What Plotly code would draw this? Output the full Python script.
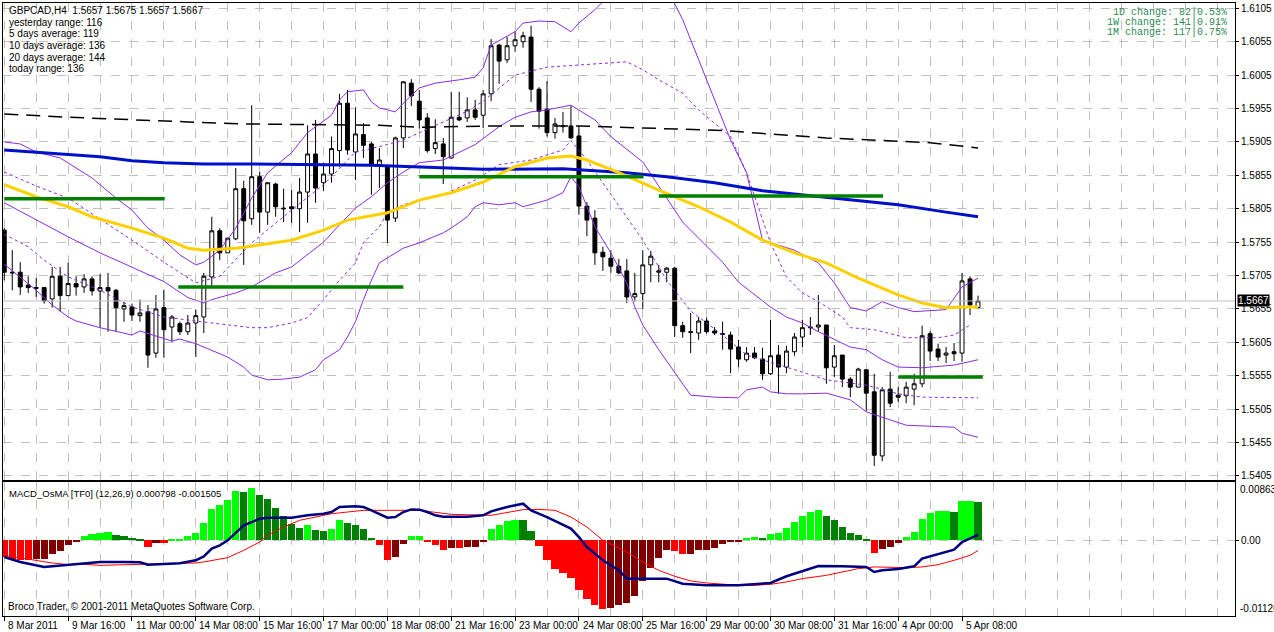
import plotly.graph_objects as go

# ---- GBPCAD H4 candles, 8 Mar 2011 08:00 .. 5 Apr 2011 16:00 (bar index 0..122)
opens = [1.5773, 1.5710, 1.5710, 1.5691, 1.5687, 1.5687, 1.5670, 1.5704, 1.5675, 1.5693,
         1.5688, 1.5700, 1.5682, 1.5687, 1.5683, 1.5655, 1.5658, 1.5645, 1.5651, 1.5589,
         1.5657, 1.5628, 1.5633, 1.5621, 1.5634, 1.5643, 1.5703, 1.5772, 1.5739, 1.5760,
         1.5835, 1.5790, 1.5853, 1.5800, 1.5842, 1.5806, 1.5808, 1.5805, 1.5830, 1.5887,
         1.5844, 1.5857, 1.5892, 1.5963, 1.5890, 1.5916, 1.5902, 1.5871, 1.5868, 1.5791,
         1.5911, 1.5993, 1.5966, 1.5941, 1.5895, 1.5902, 1.5881, 1.5942, 1.5941, 1.5953,
         1.5945, 1.5977, 1.6050, 1.6028, 1.6049, 1.6055, 1.6062, 1.5984, 1.5954, 1.5919,
         1.5929, 1.5929, 1.5914, 1.5809, 1.5791, 1.5740, 1.5731, 1.5719, 1.5712, 1.5673,
         1.5678, 1.5721, 1.5710, 1.5710, 1.5716, 1.5630, 1.5621, 1.5619, 1.5637, 1.5622,
         1.5618, 1.5616, 1.5598, 1.5579, 1.5589, 1.5580, 1.5558, 1.5586, 1.5568, 1.5591,
         1.5613, 1.5628, 1.5628, 1.5631, 1.5568, 1.5586, 1.5550, 1.5538, 1.5564, 1.5531,
         1.5435, 1.5535, 1.5526, 1.5525, 1.5535, 1.5543, 1.5618, 1.5595, 1.5586, 1.5591,
         1.5589, 1.5700, 1.5657]
highs = [1.5776, 1.5743, 1.5725, 1.5704, 1.5701, 1.5688, 1.5718, 1.5718, 1.5724, 1.5704,
         1.5707, 1.5704, 1.5707, 1.5709, 1.5685, 1.5666, 1.5663, 1.5669, 1.5661, 1.5676,
         1.5684, 1.5646, 1.5636, 1.5646, 1.5654, 1.5709, 1.5793, 1.5776, 1.5761, 1.5866,
         1.5847, 1.5960, 1.5860, 1.5844, 1.5844, 1.5835, 1.5833, 1.5851, 1.5930, 1.5938,
         1.5874, 1.5913, 1.5977, 1.5983, 1.5957, 1.5933, 1.5905, 1.5896, 1.5868, 1.5913,
         1.5996, 1.5999, 1.5983, 1.5948, 1.5939, 1.5911, 1.5980, 1.5980, 1.5972, 1.5968,
         1.5983, 1.6059, 1.6052, 1.6062, 1.6071, 1.6070, 1.6079, 1.5987, 1.5996, 1.5941,
         1.5950, 1.5959, 1.5929, 1.5815, 1.5803, 1.5748, 1.5743, 1.5730, 1.5730, 1.5709,
         1.5743, 1.5742, 1.5721, 1.5718, 1.5718, 1.5636, 1.5649, 1.5643, 1.5642, 1.5628,
         1.5636, 1.5621, 1.5609, 1.5598, 1.5598, 1.5597, 1.5639, 1.5601, 1.5600, 1.5619,
         1.5639, 1.5643, 1.5676, 1.5631, 1.5601, 1.5586, 1.5553, 1.5567, 1.5564, 1.5558,
         1.5538, 1.5561, 1.5538, 1.5546, 1.5558, 1.5630, 1.5622, 1.5603, 1.5598, 1.5604,
         1.5709, 1.5704, 1.5675]
lows = [1.5698, 1.5683, 1.5676, 1.5679, 1.5673, 1.5663, 1.5657, 1.5651, 1.5675, 1.5675,
        1.5679, 1.5675, 1.5627, 1.5621, 1.5621, 1.5636, 1.5637, 1.5636, 1.5567, 1.5582,
        1.5582, 1.5606, 1.5616, 1.5616, 1.5583, 1.5619, 1.5688, 1.5728, 1.5739, 1.5758,
        1.5721, 1.5781, 1.5769, 1.5781, 1.5793, 1.5785, 1.5784, 1.5770, 1.5784, 1.5814,
        1.5832, 1.5844, 1.5868, 1.5886, 1.5848, 1.5881, 1.5826, 1.5836, 1.5754, 1.5785,
        1.5896, 1.5959, 1.5925, 1.5889, 1.5887, 1.5842, 1.5880, 1.5936, 1.5935, 1.5938,
        1.5926, 1.5966, 1.5992, 1.6023, 1.6040, 1.6046, 1.5965, 1.5925, 1.5913, 1.5910,
        1.5919, 1.5910, 1.5796, 1.5764, 1.5721, 1.5712, 1.5709, 1.5707, 1.5664, 1.5666,
        1.5655, 1.5695, 1.5695, 1.5695, 1.5613, 1.5612, 1.5589, 1.5609, 1.5618, 1.5616,
        1.5594, 1.5559, 1.5568, 1.5576, 1.5580, 1.5549, 1.5556, 1.5528, 1.5559, 1.5585,
        1.5598, 1.5616, 1.5621, 1.5543, 1.5553, 1.5538, 1.5523, 1.5538, 1.5502, 1.5420,
        1.5427, 1.5508, 1.5516, 1.5514, 1.5511, 1.5538, 1.5577, 1.5577, 1.5574, 1.5577,
        1.5576, 1.5646, 1.5657]
closes = [1.5710, 1.5709, 1.5688, 1.5687, 1.5686, 1.5667, 1.5704, 1.5675, 1.5693, 1.5688,
          1.5700, 1.5682, 1.5687, 1.5682, 1.5657, 1.5660, 1.5646, 1.5649, 1.5586, 1.5655,
          1.5624, 1.5643, 1.5621, 1.5634, 1.5645, 1.5704, 1.5772, 1.5739, 1.5761, 1.5835,
          1.5787, 1.5853, 1.5800, 1.5844, 1.5808, 1.5805, 1.5805, 1.5830, 1.5887, 1.5836,
          1.5857, 1.5895, 1.5963, 1.5893, 1.5917, 1.5900, 1.5871, 1.5878, 1.5788, 1.5911,
          1.5995, 1.5974, 1.5938, 1.5892, 1.5904, 1.5883, 1.5942, 1.5938, 1.5953, 1.5942,
          1.5977, 1.6049, 1.6026, 1.6049, 1.6058, 1.6064, 1.5984, 1.5951, 1.5919, 1.5932,
          1.5928, 1.5911, 1.5809, 1.5788, 1.5739, 1.5733, 1.5719, 1.5709, 1.5673, 1.5678,
          1.5721, 1.5734, 1.5712, 1.5716, 1.5630, 1.5621, 1.5620, 1.5637, 1.5621, 1.5619,
          1.5617, 1.5595, 1.5580, 1.5589, 1.5582, 1.5558, 1.5585, 1.5568, 1.5592, 1.5613,
          1.5627, 1.5627, 1.5631, 1.5567, 1.5585, 1.5550, 1.5538, 1.5565, 1.5529, 1.5436,
          1.5534, 1.5514, 1.5523, 1.5538, 1.5543, 1.5615, 1.5592, 1.5583, 1.5589, 1.5588,
          1.5697, 1.5661, 1.5667]
last_price = 1.5667

# time axis labels (every 8 bars)
label_idx = [0, 8, 16, 24, 32, 40, 48, 56, 64, 72, 80, 88, 96, 104, 112, 120]
labels = ["8 Mar 2011", "9 Mar 16:00", "11 Mar 00:00", "14 Mar 08:00", "15 Mar 16:00",
          "17 Mar 00:00", "18 Mar 08:00", "21 Mar 16:00", "23 Mar 00:00", "24 Mar 08:00",
          "25 Mar 16:00", "29 Mar 00:00", "30 Mar 08:00", "31 Mar 16:00", "4 Apr 00:00",
          "5 Apr 08:00"]

# moving averages (read at sample bars)
yel_idx = [0, 4, 8, 11, 16, 20, 23, 25, 29, 31, 36, 40, 43, 48, 52, 56, 60, 64, 68, 71, 73,
           77, 82, 87, 91, 95, 99, 103, 107, 112, 115, 118, 120, 122]
yel_val = [1.5841, 1.5823, 1.5808, 1.5793, 1.5776, 1.5761, 1.5746, 1.5743, 1.5746, 1.5749,
           1.5758, 1.5773, 1.5788, 1.5799, 1.5818, 1.5829, 1.5845, 1.5868, 1.5881, 1.5884,
           1.5878, 1.5859, 1.5833, 1.5808, 1.5785, 1.5758, 1.5739, 1.5724, 1.5701, 1.5676,
           1.5664, 1.5657, 1.5658, 1.5658]
blue_idx = [0, 4, 8, 12, 16, 20, 25, 31, 46, 51, 55, 60, 70, 73, 78, 83, 89, 95, 103, 112, 118, 122]
blue_val = [1.5893, 1.5890, 1.5887, 1.5883, 1.5877, 1.5874, 1.5872, 1.5872, 1.5870, 1.5868,
            1.5866, 1.5864, 1.5865, 1.5863, 1.5859, 1.5853, 1.5844, 1.5832, 1.5822, 1.5811,
            1.5800, 1.5793]
blk_idx = [0, 8, 23, 30, 47, 52, 61, 72, 80, 90, 103, 116, 122]
blk_val = [1.5947, 1.5942, 1.5935, 1.5932, 1.5930, 1.5927, 1.5929, 1.5929, 1.5926, 1.5922,
           1.5911, 1.5904, 1.5896]

# bollinger style bands (solid upper / middle / lower, dotted inner pair)
up_idx = [0, 2, 4, 7, 11, 14, 16, 18, 20, 22, 24, 25, 27, 29, 31, 33, 36, 38, 41, 42,
          43, 45, 46, 47, 49, 50, 52, 54, 57, 59, 60, 61, 64, 65, 67, 69, 71, 72, 74, 75,
          78, 81, 83, 84, 85, 87, 89, 91, 93, 94, 95, 99, 102, 104, 106, 108, 110, 112, 114, 118,
          119, 120, 122]
up_val = [1.5905, 1.5902, 1.5890, 1.5881, 1.5851, 1.5821, 1.5803, 1.5776, 1.5758, 1.5736,
          1.5721, 1.5725, 1.5743, 1.5776, 1.5821, 1.5859, 1.5889, 1.5919, 1.5945, 1.5968,
          1.5980, 1.5983, 1.5965, 1.5956, 1.5950, 1.5963, 1.5986, 1.5993, 1.5998, 1.6002,
          1.6016, 1.6050, 1.6070, 1.6083, 1.6086, 1.6085, 1.6070, 1.6083, 1.6103, 1.6115,
          1.6145, 1.6155, 1.6136, 1.6113, 1.6088, 1.6028, 1.5968, 1.5908, 1.5859, 1.5808,
          1.5758, 1.5743, 1.5724, 1.5694, 1.5657, 1.5652, 1.5666, 1.5657, 1.5651, 1.5654,
          1.5672, 1.5688, 1.5701]
mid_idx = [0, 4, 8, 12, 16, 20, 23, 25, 26, 29, 31, 34, 36, 38, 40, 42, 44, 46, 48, 50,
           52, 55, 57, 59, 62, 64, 66, 68, 71, 74, 76, 80, 85, 90, 92, 94, 96, 98, 100, 102,
           104, 106, 108, 110, 112, 115, 119, 122]
mid_val = [1.5814, 1.5788, 1.5763, 1.5739, 1.5717, 1.5696, 1.5672, 1.5664, 1.5669, 1.5679,
           1.5688, 1.5709, 1.5718, 1.5736, 1.5755, 1.5781, 1.5806, 1.5823, 1.5844, 1.5860,
           1.5874, 1.5878, 1.5890, 1.5901, 1.5928, 1.5942, 1.5950, 1.5953, 1.5960, 1.5938,
           1.5913, 1.5875, 1.5785, 1.5725, 1.5695, 1.5676, 1.5658, 1.5643, 1.5634, 1.5621,
           1.5609, 1.5598, 1.5594, 1.5579, 1.5568, 1.5567, 1.5571, 1.5579]
lo_idx = [0, 4, 6, 8, 9, 12, 16, 17, 21, 22, 24, 28, 30, 31, 33, 35, 37, 39, 40, 42,
          43, 44, 45, 46, 47, 49, 50, 52, 55, 56, 58, 59, 60, 62, 64, 65, 68, 70, 71, 72,
          73, 74, 76, 78, 79, 80, 82, 84, 86, 89, 92, 93, 95, 96, 98, 100, 103, 106, 108, 111,
          113, 119, 120, 122]
lo_val = [1.5722, 1.5683, 1.5661, 1.5643, 1.5637, 1.5627, 1.5616, 1.5622, 1.5607, 1.5610,
          1.5603, 1.5583, 1.5568, 1.5556, 1.5549, 1.5550, 1.5553, 1.5564, 1.5579, 1.5594,
          1.5613, 1.5636, 1.5669, 1.5698, 1.5724, 1.5739, 1.5746, 1.5754, 1.5769, 1.5776,
          1.5793, 1.5808, 1.5814, 1.5811, 1.5814, 1.5808, 1.5818, 1.5829, 1.5853, 1.5838,
          1.5808, 1.5778, 1.5739, 1.5694, 1.5658, 1.5631, 1.5594, 1.5559, 1.5526, 1.5523,
          1.5522, 1.5534, 1.5538, 1.5531, 1.5528, 1.5528, 1.5529, 1.5519, 1.5501, 1.5489,
          1.5481, 1.5478, 1.5469, 1.5463]
dup_idx = [0, 4, 8, 12, 16, 20, 24, 27, 31, 36, 40, 44, 47, 50, 54, 58, 60, 64, 68, 72,
           78, 80, 82, 85, 87, 89, 91, 93, 95, 96, 98, 100, 102, 105, 106, 109, 113, 117, 119, 121]
dup_val = [1.5860, 1.5839, 1.5821, 1.5790, 1.5758, 1.5725, 1.5694, 1.5704, 1.5754, 1.5803,
           1.5841, 1.5890, 1.5898, 1.5908, 1.5930, 1.5951, 1.5966, 1.6005, 1.6017, 1.6020,
           1.6025, 1.6013, 1.5998, 1.5978, 1.5953, 1.5933, 1.5913, 1.5859, 1.5788, 1.5754,
           1.5703, 1.5679, 1.5666, 1.5643, 1.5627, 1.5624, 1.5612, 1.5612, 1.5616, 1.5631]
dlo_idx = [0, 3, 5, 8, 12, 16, 20, 23, 26, 31, 33, 36, 38, 40, 42, 44, 45, 47, 48, 50,
           52, 55, 59, 62, 66, 70, 71, 73, 76, 80, 83, 86, 90, 93, 98, 103, 108, 112, 115, 122]
dlo_val = [1.5767, 1.5748, 1.5728, 1.5703, 1.5683, 1.5658, 1.5643, 1.5639, 1.5634, 1.5627,
           1.5627, 1.5634, 1.5642, 1.5669, 1.5698, 1.5724, 1.5754, 1.5778, 1.5799, 1.5811,
           1.5818, 1.5826, 1.5848, 1.5871, 1.5878, 1.5893, 1.5907, 1.5878, 1.5826, 1.5758,
           1.5698, 1.5652, 1.5616, 1.5586, 1.5568, 1.5549, 1.5541, 1.5528, 1.5523, 1.5522]

# weekly pivot segments
piv_start = [0, 21.8, 52, 82, 112]
piv_end = [20.1, 50, 80.1, 110.1, 122.6]
piv_val = [1.5820, 1.5688, 1.5853, 1.5824, 1.5553]

# MACD_OsMA sub window
hist = [-0.00247, -0.00271, -0.00296, -0.00298, -0.00271, -0.00271, -0.00197, -0.00158, -0.00074, -0.00025,
        0.00069, 0.00089, 0.00113, 0.00123, 0.00074, 0.00059, 0.00035, 0.00020, -0.00099, -0.00035,
        -0.00040, 0.00020, 0.00022, 0.00064, 0.00113, 0.00261, 0.00468, 0.00528, 0.00601, 0.00730,
        0.00715, 0.00774, 0.00666, 0.00616, 0.00478, 0.00360, 0.00247, 0.00182, 0.00232, 0.00158,
        0.00143, 0.00173, 0.00296, 0.00261, 0.00222, 0.00168, 0.00035, -0.00064, -0.00286, -0.00247,
        -0.00049, 0.00064, 0.00066, -0.00015, -0.00064, -0.00138, -0.00108, -0.00113, -0.00099, -0.00099,
        -0.00015, 0.00173, 0.00232, 0.00286, 0.00306, 0.00306, 0.00138, -0.00084, -0.00286, -0.00419,
        -0.00483, -0.00552, -0.00730, -0.00863, -0.00961, -0.01011, -0.00996, -0.00961, -0.00927, -0.00828,
        -0.00606, -0.00404, -0.00256, -0.00138, -0.00163, -0.00197, -0.00197, -0.00148, -0.00138, -0.00108,
        -0.00049, -0.00030, -0.00015, 0.00035, 0.00049, 0.00035, 0.00099, 0.00113, 0.00187, 0.00271,
        0.00360, 0.00419, 0.00449, 0.00360, 0.00306, 0.00197, 0.00113, 0.00084, 0.00020, -0.00182,
        -0.00123, -0.00099, -0.00035, 0.00049, 0.00123, 0.00316, 0.00409, 0.00434, 0.00436, 0.00424,
        0.00582, 0.00584, 0.00567]
macd_idx = [0, 2, 5, 7, 9, 12, 15, 17, 18, 20, 22, 24, 25, 26, 27, 28, 29, 30, 31, 32,
            33, 36, 38, 40, 41, 42, 44, 45, 46, 47, 48, 49, 50, 51, 52, 53, 54, 55, 58, 60,
            61, 63, 65, 66, 68, 71, 72, 73, 75, 77, 78, 81, 83, 85, 88, 92, 96, 98, 102, 105,
            108, 109, 110, 112, 114, 115, 117, 119, 120, 122]
macd_val = [-0.00247, -0.00320, -0.00394, -0.00370, -0.00355, -0.00320, -0.00320, -0.00325, -0.00360, -0.00350,
            -0.00340, -0.00296, -0.00237, -0.00123, -0.00074, 0.0, 0.00108, 0.00222, 0.00271, 0.00320,
            0.00335, 0.00335, 0.00370, 0.00394, 0.00419, 0.00493, 0.00503, 0.00493, 0.00444, 0.00394,
            0.00335, 0.00345, 0.00419, 0.00458, 0.00454, 0.00419, 0.00370, 0.00350, 0.00350, 0.00370,
            0.00429, 0.00493, 0.00542, 0.00444, 0.00345, 0.00173, 0.00049, -0.00099, -0.00296, -0.00444,
            -0.00567, -0.00567, -0.00567, -0.00641, -0.00666, -0.00666, -0.00631, -0.00532, -0.00380, -0.00385,
            -0.00394, -0.00468, -0.00444, -0.00424, -0.00385, -0.00271, -0.00207, -0.00138, -0.00025, 0.000798]
sig_idx = [0, 4, 6, 8, 10, 12, 16, 20, 24, 25, 28, 30, 32, 33, 35, 37, 39, 41, 43, 45,
           52, 54, 56, 61, 65, 67, 69, 71, 73, 75, 78, 80, 82, 84, 86, 88, 90, 92, 94, 96,
           98, 100, 103, 105, 107, 109, 111, 113, 115, 117, 119, 121, 122]
sig_val = [-0.00222, -0.00296, -0.00335, -0.00360, -0.00355, -0.00370, -0.00360, -0.00345, -0.00335, -0.00320,
           -0.00256, -0.00148, -0.00025, 0.00074, 0.00197, 0.00296, 0.00345, 0.00394, 0.00419, 0.00444,
           0.00444, 0.00419, 0.00385, 0.00370, 0.00454, 0.00458, 0.00444, 0.00345, 0.00197, 0.0,
           -0.00173, -0.00320, -0.00444, -0.00532, -0.00601, -0.00631, -0.00651, -0.00666, -0.00666, -0.00651,
           -0.00616, -0.00567, -0.00518, -0.00468, -0.00419, -0.00394, -0.00404, -0.00404, -0.00394, -0.00360,
           -0.00296, -0.00222, -0.001505]

bars = list(range(len(closes)))
PURPLE = "#8A2BE2"
GRID = "#C0C0C0"
FONT = "Liberation Sans, Arial, sans-serif"


def py(pix):
    # pixel row -> paper coordinate (plot area spans rows 3..616)
    return (616 - pix) / 613


def px(pix):
    return (pix - 2) / 1235


fig = go.Figure()

# candles
fig.add_trace(go.Candlestick(x=bars, open=opens, high=highs, low=lows, close=closes,
                             increasing=dict(line=dict(color="black", width=1), fillcolor="white"),
                             decreasing=dict(line=dict(color="black", width=1), fillcolor="black"),
                             whiskerwidth=0, xaxis="x", yaxis="y", hoverinfo="skip"))

# current price line
fig.add_hline(y=last_price, line=dict(color=GRID, width=1), xref="x", yref="y")

# bands
for ix, vals, dash in [(up_idx, up_val, "solid"), (mid_idx, mid_val, "solid"), (lo_idx, lo_val, "solid"),
                       (dup_idx, dup_val, "3px,3px"), (dlo_idx, dlo_val, "3px,3px")]:
    fig.add_trace(go.Scatter(x=ix, y=vals, mode="lines", xaxis="x", yaxis="y",
                             line=dict(color=PURPLE, width=1, dash=dash)))

# moving averages
fig.add_trace(go.Scatter(x=blk_idx, y=blk_val, mode="lines", xaxis="x", yaxis="y",
                         line=dict(color="black", width=1.5, dash="14px,8px")))
fig.add_trace(go.Scatter(x=blue_idx, y=blue_val, mode="lines", xaxis="x", yaxis="y",
                         line=dict(color="#0010C8", width=3)))
fig.add_trace(go.Scatter(x=yel_idx, y=yel_val, mode="lines", xaxis="x", yaxis="y",
                         line=dict(color="#FFD000", width=3)))

# pivot segments
gx, gy = [], []
for s, e, v in zip(piv_start, piv_end, piv_val):
    gx += [s, e, None]
    gy += [v, v, None]
fig.add_trace(go.Scatter(x=gx, y=gy, mode="lines", xaxis="x", yaxis="y",
                         line=dict(color="#008000", width=3.5)))

# OsMA histogram colours: rising/falling above and below zero
cols = []
for i, v in enumerate(hist):
    prev = hist[i - 1] if i > 0 else 0
    if v >= 0:
        cols.append("#00FF00" if v > prev else "#008000")
    else:
        cols.append("#FF0000" if v < prev else "#800000")
fig.add_trace(go.Bar(x=bars, y=hist, width=0.9, marker=dict(color=cols, line=dict(width=0)),
                     xaxis="x2", yaxis="y2"))
fig.add_trace(go.Scatter(x=sig_idx, y=sig_val, mode="lines", xaxis="x2", yaxis="y2",
                         line=dict(color="#FF0000", width=1)))
fig.add_trace(go.Scatter(x=macd_idx, y=macd_val, mode="lines", xaxis="x2", yaxis="y2",
                         line=dict(color="#000080", width=2.5)))

xr = [-0.16, 154.2]
xcommon = dict(range=xr, showline=True, mirror=True, linecolor="black", linewidth=1,
               tickvals=label_idx, ticktext=[""] * len(label_idx),
               showgrid=True, gridcolor=GRID, griddash="dash", gridwidth=1, zeroline=False,
               minor=dict(tick0=0, dtick=4, showgrid=True, gridcolor=GRID, griddash="dash", ticks=""))

price_ticks = [round(1.5405 + 0.005 * i, 4) for i in range(15)]

fig.update_layout(
    width=1274, height=632,
    margin=dict(l=2, r=37, t=3, b=16),
    paper_bgcolor="white", plot_bgcolor="white",
    showlegend=False, bargap=0,
    font=dict(family=FONT, size=10, color="black"),
    xaxis=dict(anchor="y", ticks="", rangeslider=dict(visible=False), **xcommon),
    xaxis2=dict(anchor="y2", ticks="outside", ticklen=4, tickcolor="black", **xcommon),
    yaxis=dict(domain=[py(480), 1], side="right", range=[1.5399, 1.6113],
               tickvals=price_ticks, ticktext=[f"{v:.4f}" for v in price_ticks],
               ticks="outside", ticklen=3, tickcolor="black",
               showgrid=True, gridcolor=GRID, griddash="dash", zeroline=False,
               showline=True, mirror=True, linecolor="black"),
    yaxis2=dict(domain=[0, py(482)], side="right", range=[-0.0112, 0.008635],
                tickvals=[0], ticktext=["0.00"], ticks="outside", ticklen=3, tickcolor="black",
                showgrid=True, gridcolor=GRID, griddash="dash", zeroline=False,
                showline=True, mirror=True, linecolor="black"),
)

ann = []
# time labels, left-aligned at their tick like MT4
for i, t in zip(label_idx, labels):
    ann.append(dict(x=i + 0.2, y=py(625), xref="x2", yref="paper", text=t, showarrow=False,
                    xanchor="left", yanchor="middle"))

info = ["GBPCAD,H4  1.5657 1.5675 1.5657 1.5667", "yesterday range: 116", "5 days average: 119",
        "10 days average: 136", "20 days average: 144", "today range: 136"]
for n, t in enumerate(info):
    ann.append(dict(x=px(6.5), y=py(10.7 + 11.6 * n), xref="paper", yref="paper", text=t,
                    showarrow=False, xanchor="left", yanchor="middle"))

changes = ["1D change: 82|0.53%", "1W change: 141|0.91%", "1M change: 117|0.75%"]
for n, t in enumerate(changes):
    ann.append(dict(x=px(1231), y=py(12.5 + 10 * n), xref="paper", yref="paper", text=t,
                    showarrow=False, xanchor="right", yanchor="middle",
                    font=dict(family="Liberation Mono", size=10, color="#2E8B57")))

ann.append(dict(x=px(6.5), y=py(493), xref="paper", yref="paper",
                text="MACD_OsMA [TF0] (12,26,9) 0.000798 -0.001505",
                showarrow=False, xanchor="left", yanchor="middle", font=dict(size=9.5)))
ann.append(dict(x=px(5), y=py(606), xref="paper", yref="paper",
                text="Broco Trader, © 2001-2011 MetaQuotes Software Corp.",
                showarrow=False, xanchor="left", yanchor="middle"))
ann.append(dict(x=1, y=0.008635, xref="paper", yref="y2", text="0.008635", showarrow=False,
                xanchor="left", yanchor="top", xshift=3))
ann.append(dict(x=1, y=-0.0112, xref="paper", yref="y2", text="-0.01120", showarrow=False,
                xanchor="left", yanchor="bottom", xshift=3))
ann.append(dict(x=1, y=last_price, xref="paper", yref="y", text="1.5667", showarrow=False,
                xanchor="left", yanchor="middle", xshift=2, bgcolor="black",
                font=dict(color="white", size=10), borderpad=0))
fig.update_layout(annotations=ann)

# page without the default body margin so the chart sits at the window corner
fig.write_html("out.html", config={"displayModeBar": False},
               post_script="document.body.style.margin='0px';")
